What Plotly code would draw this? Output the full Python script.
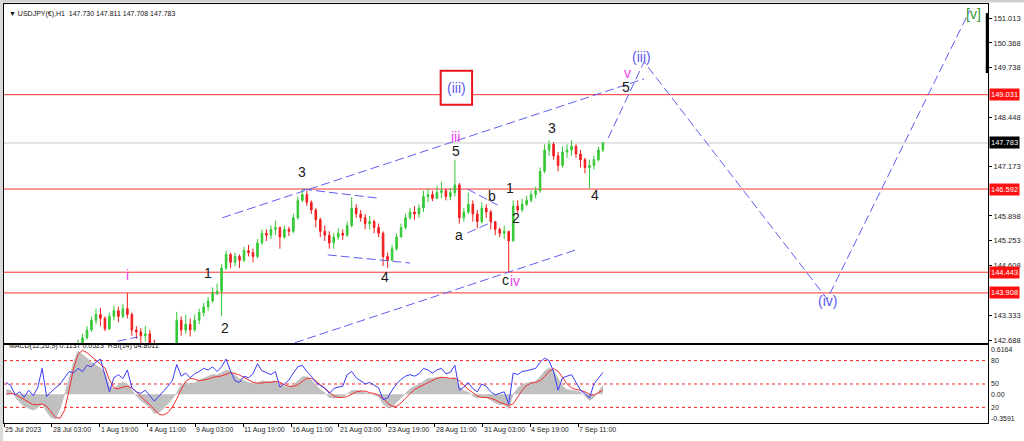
import plotly.graph_objects as go

# ---------------- data (USDJPY H1, 6-hour candle groups) ----------------
first_open = 141.75
close = [
    141.60, 141.20, 141.10, 140.80, 140.90, 140.40, 140.30, 140.75, 141.20, 139.80,
    139.40, 139.90, 140.80, 141.15, 141.70, 142.30, 142.55, 142.75, 142.95, 143.20,
    143.35, 143.25, 142.98, 143.30, 143.45, 143.30, 143.50, 143.35, 142.95, 142.90,
    142.80, 142.85, 142.60, 141.90, 141.80, 141.85, 142.05, 142.45, 143.20, 142.95,
    143.10, 142.95, 143.20, 143.40, 143.55, 143.70, 143.90, 143.95, 144.55, 144.90,
    144.70, 144.85, 144.75, 145.00, 144.95, 144.85, 145.20, 145.45, 145.40, 145.55,
    145.60, 145.35, 145.55, 145.50, 145.85, 146.30, 146.45, 146.25, 146.05, 145.80,
    145.50, 145.40, 145.20, 145.35, 145.45, 145.40, 145.65, 146.10, 145.95, 145.85,
    145.70, 145.75, 145.60, 145.45, 144.85, 144.75, 145.05, 145.35, 145.60, 145.85,
    146.00, 145.95, 146.10, 146.40, 146.45, 146.35, 146.50, 146.55, 146.40, 146.50,
    146.70, 145.85, 146.00, 146.20, 145.95, 145.75, 146.10, 146.00, 145.75, 145.55,
    145.45, 145.50, 145.25, 146.15, 146.05, 146.20, 146.30, 146.45, 146.55, 147.05,
    147.60, 147.75, 147.45, 147.20, 147.55, 147.60, 147.70, 147.50, 147.35, 147.15,
    147.20, 147.35, 147.60, 147.783]
high = [
    141.85, 141.70, 141.35, 141.20, 141.10, 141.20, 140.60, 140.95, 141.35, 141.25,
    139.95, 140.20, 141.10, 141.35, 141.90, 142.45, 142.70, 142.85, 143.05, 143.30,
    143.50, 143.52, 143.30, 143.40, 143.58, 143.55, 143.62, 143.90, 143.40, 143.05,
    143.00, 143.05, 142.95, 142.70, 142.00, 142.05, 142.20, 142.55, 143.42, 143.30,
    143.35, 143.25, 143.35, 143.50, 143.65, 143.80, 144.05, 144.15, 144.65, 145.00,
    144.95, 144.95, 144.90, 145.10, 145.15, 145.05, 145.30, 145.55, 145.55, 145.65,
    145.78, 145.62, 145.65, 145.62, 145.95, 146.40, 146.60, 146.55, 146.30, 146.10,
    145.85, 145.65, 145.50, 145.45, 145.58, 145.55, 145.75, 146.38, 146.20, 146.05,
    145.95, 145.90, 145.80, 145.70, 145.50, 144.95, 145.15, 145.45, 145.70, 145.95,
    146.10, 146.15, 146.20, 146.55, 146.60, 146.55, 146.68, 146.78, 146.60, 146.62,
    147.35, 146.75, 146.10, 146.50, 146.30, 146.05, 146.25, 146.20, 146.05, 145.75,
    145.60, 145.65, 145.50, 146.30, 146.30, 146.35, 146.42, 146.55, 146.65, 147.15,
    147.75, 147.85, 147.80, 147.55, 147.70, 147.75, 147.86, 147.75, 147.60, 147.40,
    147.35, 147.45, 147.68, 147.811]
low = [
    141.40, 141.05, 140.90, 140.60, 140.55, 140.20, 140.10, 140.25, 140.60, 139.55,
    139.10, 138.10, 139.70, 140.60, 141.10, 141.70, 142.25, 142.50, 142.70, 142.90,
    143.10, 143.05, 142.92, 142.95, 143.20, 143.15, 143.25, 143.25, 142.80, 142.72,
    142.60, 142.65, 142.40, 141.55, 141.55, 141.60, 141.80, 141.95, 142.40, 142.80,
    142.85, 142.78, 142.90, 143.10, 143.30, 143.45, 143.65, 143.85, 143.30, 144.50,
    144.55, 144.60, 144.55, 144.70, 144.85, 144.70, 144.80, 145.15, 145.25, 145.30,
    145.40, 145.05, 145.30, 145.38, 145.45, 145.80, 146.25, 146.15, 145.95, 145.60,
    145.35, 145.25, 145.05, 145.05, 145.28, 145.28, 145.35, 145.60, 145.85, 145.75,
    145.55, 145.55, 145.45, 145.35, 144.60, 144.55, 144.75, 145.00, 145.35, 145.55,
    145.80, 145.80, 145.85, 146.00, 146.25, 146.28, 146.35, 146.35, 146.30, 146.30,
    146.40, 145.70, 145.75, 145.95, 145.75, 145.58, 145.70, 145.85, 145.55, 145.40,
    145.35, 145.30, 144.45, 145.25, 145.95, 146.00, 146.15, 146.25, 146.35, 146.50,
    147.00, 147.45, 147.35, 147.05, 147.15, 147.40, 147.45, 147.40, 147.15, 147.00,
    146.60, 147.10, 147.30, 147.55]

macd_main = [
    0.06, 0.05, -0.03, -0.10, -0.15, -0.18, -0.20, -0.17, -0.12, -0.22,
    -0.29, -0.31, -0.18, 0.00, 0.20, 0.40, 0.54, 0.50, 0.45, 0.40,
    0.36, 0.33, 0.27, 0.10, 0.07, 0.12, 0.15, 0.13, 0.06, -0.02,
    -0.08, -0.12, -0.16, -0.24, -0.23, -0.18, -0.12, -0.06, 0.02, 0.12,
    0.15, 0.13, 0.14, 0.18, 0.20, 0.23, 0.25, 0.24, 0.27, 0.30,
    0.29, 0.24, 0.19, 0.17, 0.15, 0.13, 0.14, 0.17, 0.16, 0.16,
    0.17, 0.11, 0.10, 0.09, 0.12, 0.17, 0.22, 0.22, 0.18, 0.12,
    0.06, 0.02, -0.04, -0.05, -0.04, -0.03, 0.00, 0.05, 0.05, 0.04,
    0.02, 0.01, -0.01, -0.03, -0.12, -0.17, -0.16, -0.10, -0.04, 0.02,
    0.07, 0.10, 0.12, 0.16, 0.20, 0.20, 0.21, 0.22, 0.20, 0.19,
    0.21, 0.10, 0.04, 0.03, -0.02, -0.05, -0.03, -0.04, -0.07, -0.11,
    -0.13, -0.13, -0.18, 0.00, 0.08, 0.12, 0.14, 0.15, 0.16, 0.22,
    0.29, 0.33, 0.30, 0.20, 0.10, 0.06, 0.05, 0.04, 0.03, -0.02,
    -0.08, -0.04, 0.04, 0.1137]
macd_signal = [
    0.00, 0.01, 0.00, -0.03, -0.07, -0.10, -0.13, -0.13, -0.12, -0.15,
    -0.22, -0.29, -0.30, -0.20, 0.05, 0.32, 0.50, 0.55, 0.52, 0.47,
    0.42, 0.38, 0.33, 0.18, 0.08, 0.07, 0.09, 0.10, 0.08, 0.03,
    -0.03, -0.08, -0.13, -0.19, -0.25, -0.26, -0.23, -0.16, -0.06, 0.06,
    0.16, 0.20, 0.19, 0.17, 0.18, 0.19, 0.21, 0.22, 0.23, 0.25,
    0.27, 0.26, 0.24, 0.21, 0.18, 0.15, 0.14, 0.14, 0.15, 0.15,
    0.16, 0.15, 0.12, 0.10, 0.10, 0.12, 0.16, 0.20, 0.20, 0.17,
    0.12, 0.07, 0.02, -0.02, -0.04, -0.04, -0.03, 0.00, 0.03, 0.04,
    0.04, 0.02, 0.01, -0.01, -0.05, -0.11, -0.15, -0.15, -0.11, -0.05,
    0.01, 0.06, 0.09, 0.12, 0.15, 0.18, 0.20, 0.21, 0.21, 0.20,
    0.20, 0.17, 0.11, 0.06, 0.02, -0.02, -0.04, -0.04, -0.05, -0.07,
    -0.10, -0.12, -0.14, -0.12, -0.04, 0.05, 0.11, 0.14, 0.15, 0.17,
    0.22, 0.29, 0.32, 0.29, 0.21, 0.13, 0.08, 0.06, 0.05, 0.03,
    0.00, -0.01, 0.02, 0.0523]
rsi14 = [
    52, 48, 36, 40, 33, 42, 35, 45, 70, 34,
    40, 45, 50, 58, 66, 64, 70, 66, 74, 72,
    78, 82, 60, 40, 58, 62, 57, 68, 45, 40,
    38, 42, 35, 28, 34, 40, 47, 54, 75, 60,
    64, 58, 63, 66, 70, 68, 72, 66, 72, 82,
    66, 54, 52, 60, 58, 63, 76, 67, 64, 62,
    66, 46, 50, 55, 64, 72, 74, 66, 60, 52,
    48, 45, 38, 44, 46, 47, 62, 66, 58, 54,
    50, 52, 48, 45, 30, 32, 42, 50, 56, 60,
    62, 60, 63, 70, 68, 64, 68, 70, 63, 65,
    74, 42, 46, 52, 44, 40, 50, 47, 40, 36,
    38, 40, 24, 64, 62, 66, 67, 69, 70, 78,
    83, 80, 66, 42, 58, 60, 62, 52, 42, 38,
    32, 50, 58, 64.80]

time_tick_bars = [0, 64, 128, 192, 256, 320, 384, 448, 512, 576, 640, 704, 768]
time_tick_labels = ["25 Jul 2023", "28 Jul 03:00", "1 Aug 19:00", "4 Aug 11:00",
                    "9 Aug 03:00", "11 Aug 19:00", "16 Aug 11:00", "21 Aug 03:00",
                    "23 Aug 19:00", "28 Aug 11:00", "31 Aug 03:00", "4 Sep 19:00",
                    "7 Sep 11:00"]
price_tick_values = [151.013, 150.368, 149.738, 148.448, 147.173,
                     145.898, 145.253, 144.608, 143.333, 142.688]
red_levels = [149.031, 146.592, 144.443, 143.908]
last_price = 147.783
rsi_levels = [80, 50, 20]
macd_axis_labels = [0.6164, 0.00, -0.3591]

# Elliott wave labels: text, bar index, price, colour key
wave_labels = [
    ("i", 165, 144.37, "pink"), ("1", 273, 144.42, "black"), ("2", 295, 143.00, "black"),
    ("3", 399, 147.03, "black"), ("4", 509, 144.32, "black"), ("5", 604, 147.58, "black"),
    ("iii", 604, 147.94, "pink"), ("a", 608, 145.41, "black"), ("b", 652, 146.41, "black"),
    ("c", 671, 144.24, "black"), ("iv", 683, 144.22, "pink"), ("1", 677, 146.62, "black"),
    ("2", 685, 145.84, "black"), ("3", 733, 148.17, "black"), ("4", 791, 146.44, "black"),
    ("5", 832, 149.23, "black"), ("v", 834, 149.59, "pink"), ("(iii)", 852, 150.00, "blue"),
    ("(iv)", 1101, 143.70, "blue"), ("[v]", 1296, 151.12, "green"),
]
boxed_label = ("(iii)", 605, 149.21)
boxed_label_x = [584, 626]
boxed_label_y = [148.77, 149.65]

# dashed trend lines (bar index, price)
trend_lines = [
    ([292, 856], [145.85, 149.44]),     # upper channel
    ([356, 765], [142.41, 145.02]),     # lower channel
    ([400, 499], [146.59, 146.36]),     # wave-4 triangle top
    ([433, 543], [144.89, 144.68]),     # wave-4 triangle bottom
    ([620, 660], [146.59, 146.18]),     # b line
    ([620, 653], [145.46, 145.74]),     # a line
    ([152, 179], [142.66, 142.77]),     # small segment
]
projection_x = [808, 856, 1101, 1292]
projection_y = [147.91, 149.88, 143.75, 151.22]

# ---------------- figure ----------------
bar_x = [6 * k + 3 for k in range(len(close))]
opens = [first_open] + close[:-1]

FONT = "Liberation Sans, Arial, sans-serif"
BLUE_DASH = "#5E5EF2"
colors = {"pink": "#EE40EE", "black": "#1A1A1A", "blue": "#5A5AF0", "green": "#339933"}

fig = go.Figure()

fig.add_trace(go.Candlestick(
    x=bar_x, open=opens, high=high, low=low, close=close,
    increasing=dict(line=dict(color="#36C836", width=1), fillcolor="#36C836"),
    decreasing=dict(line=dict(color="#F21C1C", width=1), fillcolor="#F21C1C"),
    whiskerwidth=0, showlegend=False, hoverinfo="skip", xaxis="x", yaxis="y"))

for xs, ys in trend_lines:
    fig.add_trace(go.Scatter(x=xs, y=ys, mode="lines", showlegend=False, hoverinfo="skip",
                             line=dict(color=BLUE_DASH, width=1, dash="9px,4px"),
                             xaxis="x", yaxis="y"))
fig.add_trace(go.Scatter(x=projection_x, y=projection_y, mode="lines", showlegend=False,
                         hoverinfo="skip", line=dict(color=BLUE_DASH, width=1, dash="9px,4px"),
                         xaxis="x", yaxis="y"))

fig.add_trace(go.Scatter(x=bar_x, y=macd_main, mode="lines", fill="tozeroy",
                         fillcolor="#C0C0C0", line=dict(color="#B8B8B8", width=0.5),
                         showlegend=False, hoverinfo="skip", xaxis="x2", yaxis="y2"))
fig.add_trace(go.Scatter(x=bar_x, y=macd_signal, mode="lines",
                         line=dict(color="#F03030", width=1),
                         showlegend=False, hoverinfo="skip", xaxis="x2", yaxis="y2"))
fig.add_trace(go.Scatter(x=bar_x, y=rsi14, mode="lines",
                         line=dict(color="#3A3AF5", width=1),
                         showlegend=False, hoverinfo="skip", xaxis="x2", yaxis="y3"))

shapes = []
for lv in red_levels:
    shapes.append(dict(type="line", xref="paper", x0=0, x1=1, yref="y", y0=lv, y1=lv,
                       line=dict(color="#FF3030", width=1), layer="below"))
shapes.append(dict(type="line", xref="paper", x0=0, x1=1, yref="y", y0=last_price,
                   y1=last_price, line=dict(color="#C8C8C8", width=1), layer="below"))
for lv in rsi_levels:
    shapes.append(dict(type="line", xref="paper", x0=0, x1=1, yref="y3", y0=lv, y1=lv,
                       line=dict(color="#FF2020", width=1, dash="dot"), layer="below"))
shapes.append(dict(type="rect", xref="x", yref="y", x0=boxed_label_x[0], x1=boxed_label_x[1],
                   y0=boxed_label_y[0], y1=boxed_label_y[1],
                   line=dict(color="#E8141E", width=2), fillcolor="white", layer="above"))
shapes.append(dict(type="line", xref="paper", x0=0.999, x1=0.999, yref="y",
                   y0=149.59, y1=151.14, line=dict(color="black", width=2.5)))
# window frame strips (top and left)
shapes.append(dict(type="rect", xref="paper", yref="paper", x0=-0.01, x1=1.04,
                   y0=1.0036, y1=1.012, fillcolor="#CFCFCF", line=dict(width=0)))
shapes.append(dict(type="rect", xref="paper", yref="paper", x0=-0.01, x1=-0.001,
                   y0=-0.05, y1=1.012, fillcolor="#DADADA", line=dict(width=0)))

ann = []
for txt, bx, py, ck in wave_labels:
    ann.append(dict(text=txt, x=bx, y=py, xref="x", yref="y", showarrow=False,
                    font=dict(family=FONT, size=14, color=colors[ck])))
ann.append(dict(text=boxed_label[0], x=boxed_label[1], y=boxed_label[2], xref="x", yref="y",
                showarrow=False, font=dict(family=FONT, size=14, color=colors["blue"])))

for lv in red_levels:
    ann.append(dict(text=f"{lv:.3f}", x=1, xref="paper", y=lv, yref="y", xanchor="left",
                    xshift=1, showarrow=False, bgcolor="#FF1010", borderpad=1,
                    font=dict(family=FONT, size=7.5, color="white")))
ann.append(dict(text=f"{last_price:.3f}", x=1, xref="paper", y=last_price, yref="y",
                xanchor="left", xshift=1, showarrow=False, bgcolor="black", borderpad=1,
                font=dict(family=FONT, size=7.5, color="white")))

for bx, lab in zip(time_tick_bars, time_tick_labels):
    ann.append(dict(text=lab, x=bx, xref="x2", y=-0.004, yref="paper", xanchor="left",
                    yanchor="top", showarrow=False, borderpad=0,
                    font=dict(family=FONT, size=7, color="#222")))

ann.append(dict(text=f"{macd_axis_labels[0]:.4f}", x=1, xref="paper", y=macd_axis_labels[0],
                yref="y2", xanchor="left", yanchor="top", xshift=2, showarrow=False,
                borderpad=0, font=dict(family=FONT, size=7, color="#222")))
ann.append(dict(text=f"{macd_axis_labels[1]:.2f}", x=1, xref="paper", y=macd_axis_labels[1],
                yref="y2", xanchor="left", xshift=2, showarrow=False, borderpad=0,
                font=dict(family=FONT, size=7, color="#222")))
ann.append(dict(text=f"{macd_axis_labels[2]:.4f}", x=1, xref="paper", y=macd_axis_labels[2],
                yref="y2", xanchor="left", yanchor="bottom", xshift=2, showarrow=False,
                borderpad=0, font=dict(family=FONT, size=7, color="#222")))
for lv in rsi_levels:
    ann.append(dict(text=str(lv), x=1, xref="paper", y=lv, yref="y3", xanchor="left",
                    xshift=2, showarrow=False, borderpad=0,
                    font=dict(family=FONT, size=7, color="#222")))

ann.append(dict(text="\u25BC USDJPY(\u20AC),H1\u00a0 147.730 147.811 147.708 147.783",
                x=0.004, xref="paper", y=0.988, yref="paper", xanchor="left",
                showarrow=False, borderpad=0, font=dict(family=FONT, size=7, color="#111")))
ann.append(dict(text="MACD(12,26,9) 0.1137 0.0523\u00a0 RSI(14) 64.8011",
                x=0.004, xref="paper", y=0.1718, yref="paper", xanchor="left",
                showarrow=False, borderpad=0, font=dict(family=FONT, size=7, color="#111")))

axis_common = dict(showgrid=False, zeroline=False, showline=True, mirror=True,
                   linecolor="black", linewidth=1)

fig.update_layout(
    width=1024, height=441, autosize=False,
    margin=dict(l=3, r=34, t=4, b=18),
    paper_bgcolor="white", plot_bgcolor="white",
    showlegend=False, hovermode=False, boxgap=0.5,
    xaxis=dict(domain=[0, 1], range=[0, 1316], anchor="y", showticklabels=False,
               ticks="", rangeslider=dict(visible=False), **axis_common),
    xaxis2=dict(domain=[0, 1], range=[0, 1316], anchor="y2", matches="x",
                tickvals=time_tick_bars, ticks="outside", ticklen=3, tickcolor="black",
                showticklabels=False, **axis_common),
    yaxis=dict(domain=[0.1909, 1], range=[142.613, 151.375], anchor="x", side="right",
               tickvals=price_tick_values, ticktext=[f"{v:.3f}" for v in price_tick_values],
               ticks="outside", ticklen=3, tickcolor="black",
               tickfont=dict(family=FONT, size=7.5, color="#222"), **axis_common),
    yaxis2=dict(domain=[0, 0.1862], range=[-0.3591, 0.6164], anchor="x2", side="right",
                showticklabels=False, ticks="", **axis_common),
    yaxis3=dict(range=[0, 100], overlaying="y2", anchor="x2", side="right", visible=False,
                showgrid=False, zeroline=False),
    shapes=shapes, annotations=ann,
)

fig.write_html(
    "out.html",
    config={"displayModeBar": False, "staticPlot": True},
    post_script="document.body.style.margin='0';document.body.style.padding='0';"
                "document.body.style.overflow='hidden';",
)
